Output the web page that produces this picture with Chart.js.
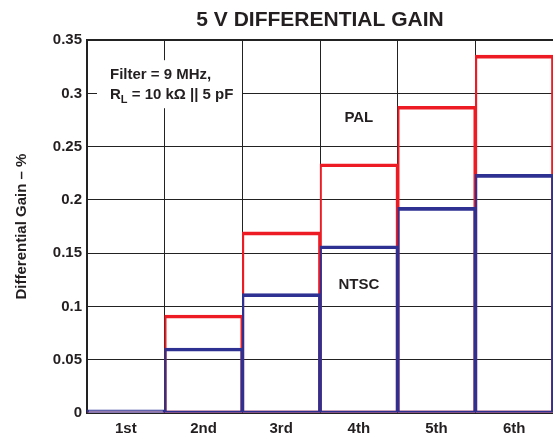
<!DOCTYPE html>
<html>
<head>
<meta charset="utf-8">
<script src="https://cdn.jsdelivr.net/npm/chart.js@4"></script>
<style>
  html, body { margin: 0; padding: 0; background: #fff; }
  #wrap { width: 553px; height: 437px; }
</style>
</head>
<body>
<div id="wrap"><canvas id="gainChart" width="553" height="437"></canvas></div>
<script>
// values
var harmonics = ['1st', '2nd', '3rd', '4th', '5th', '6th'];
var pal  = [0.001, 0.092, 0.170, 0.234, 0.288, 0.336];
var ntsc = [0.003, 0.061, 0.112, 0.157, 0.193, 0.224];
var yTicks = [0, 0.05, 0.1, 0.15, 0.2, 0.25, 0.3, 0.35];

var FONT = '"Liberation Sans", Arial, sans-serif';
var TXT = '#231f20';

var labelsPlugin = {
  id: 'labels',
  afterDatasetsDraw: function(chart) {
    var ctx = chart.ctx;
    var x = chart.scales.x, y = chart.scales.y;
    ctx.save();
    // white note box over the grid
    var bx = x.left + 10, by = y.top + 20;
    ctx.fillStyle = '#fff';
    ctx.fillRect(bx, by, 145, 48);
    ctx.fillStyle = TXT;
    ctx.font = 'bold 15px ' + FONT;
    ctx.textBaseline = 'alphabetic';
    ctx.textAlign = 'left';
    ctx.fillText('Filter = 9 MHz,', bx + 13, by + 19);
    ctx.fillText('R', bx + 13, by + 39);
    var w = ctx.measureText('R').width;
    ctx.font = 'bold 11px ' + FONT;
    ctx.fillText('L', bx + 13 + w, by + 43);
    var w2 = ctx.measureText('L').width;
    ctx.font = 'bold 15px ' + FONT;
    ctx.fillText(' = 10 k\u03A9 || 5 pF', bx + 13 + w + w2, by + 39);
    ctx.textAlign = 'center';
    ctx.textBaseline = 'middle';
    ctx.fillText('PAL', x.getPixelForValue(3), y.getPixelForValue(0.277));
    ctx.fillText('NTSC', x.getPixelForValue(3), y.getPixelForValue(0.12));
    ctx.restore();
  }
};

var ctx = document.getElementById('gainChart').getContext('2d');
var myChart = new Chart(ctx, {
  type: 'bar',
  data: {
    labels: harmonics,
    datasets: [{
      label: 'NTSC',
      data: ntsc,
      backgroundColor: 'rgba(0,0,0,0)',
      borderColor: '#2e3192',
      borderWidth: {top: 3, left: 1.5, right: 1.5, bottom: 1.5},
      borderSkipped: false
    }, {
      label: 'PAL',
      data: pal,
      backgroundColor: 'rgba(0,0,0,0)',
      borderColor: '#ed1c24',
      borderWidth: {top: 3, left: 1.5, right: 1.5, bottom: 1.5},
      borderSkipped: false
    }]
  },
  options: {
    responsive: false,
    animation: false,
    layout: { padding: 0 },
    datasets: { bar: { grouped: false, barPercentage: 1, categoryPercentage: 1 } },
    plugins: {
      legend: { display: false },
      tooltip: { enabled: false },
      title: {
        display: true,
        fullSize: false,
        text: '5 V DIFFERENTIAL GAIN',
        color: TXT,
        font: { family: FONT, size: 21, weight: 'bold' },
        padding: { top: 8, bottom: 7 }
      }
    },
    scales: {
      x: {
        grid: { color: '#222', lineWidth: 1, drawTicks: false },
        border: { display: false },
        ticks: {
          color: TXT, padding: 7,
          font: { family: FONT, size: 15, weight: 'bold' }
        },
        afterFit: function(s) { s.height = 24; }
      },
      y: {
        min: 0, max: 0.35,
        afterBuildTicks: function(s) { s.ticks = yTicks.map(function(v) { return {value: v}; }); },
        grid: {
          color: '#222',
          lineWidth: function(c) { return c.tick && c.tick.value === 0.35 ? 2 : 1; },
          drawTicks: false
        },
        border: { display: true, color: '#222', width: 2 },
        ticks: {
          color: TXT, padding: 5,
          font: { family: FONT, size: 15, weight: 'bold' },
          callback: function(v) { return String(v); }
        },
        title: {
          display: true,
          text: 'Differential Gain \u2013 %',
          color: TXT,
          font: { family: FONT, size: 15, weight: 'bold' },
          padding: { top: 13, bottom: 0 }
        },
        afterFit: function(s) { s.width = 87; }
      }
    }
  },
  plugins: [labelsPlugin]
});
</script>
</body>
</html>
